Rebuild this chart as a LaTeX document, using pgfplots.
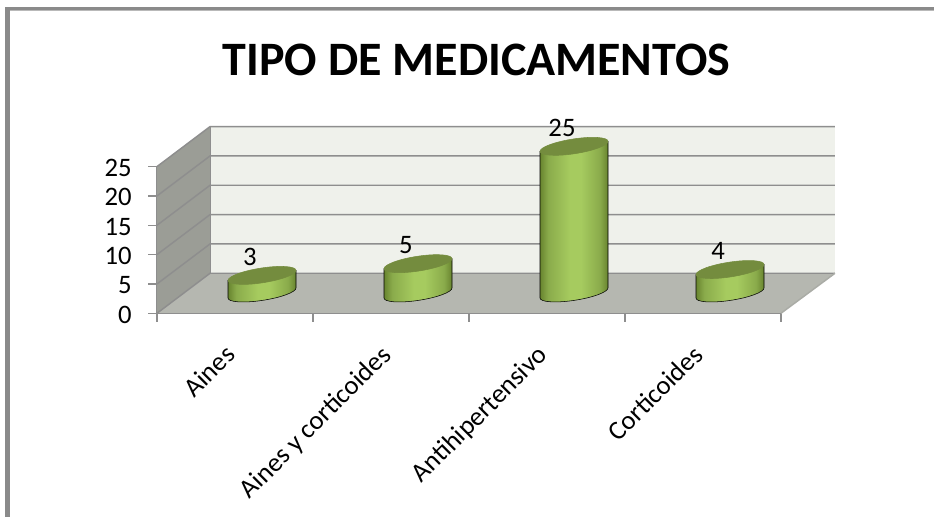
\documentclass[border=0pt]{standalone}
\usepackage{pgfplots}
\pgfplotsset{compat=1.18}
\usepackage{pgfplotstable}
\usepackage{fontspec}
\setmainfont{Carlito}
\definecolor{cdark}{HTML}{68842F}
\definecolor{cmid}{HTML}{8AAB4B}
\definecolor{clight}{HTML}{A6CB5F}
\definecolor{ctop}{HTML}{748C3E}
\definecolor{wallside}{HTML}{9B9D96}
\definecolor{wallback}{HTML}{EFF1EB}
\definecolor{wallfloor}{HTML}{B5B7B0}
\definecolor{gridc}{HTML}{8E8E8E}
\definecolor{framec}{HTML}{8A8A8A}
\pgfdeclarehorizontalshading{cylshade}{100bp}{color(0bp)=(cdark); color(25bp)=(cdark); color(31bp)=(cmid); color(47bp)=(clight); color(55bp)=(clight); color(69bp)=(cmid); color(75bp)=(cdark); color(100bp)=(cdark)}
\pgfplotstableread{
x y
0.5 3
1.5 5
2.5 25
3.5 4
}\meds
\pgfdeclareplotmark{cyl}{%
  \pgfmathsetlengthmacro\cylh{\cylv*4.398pt}%
  \shade[shading=cylshade] (-25.5pt,-3.75pt) -- (-25.5pt,{-3.75pt-\cylh})
    .. controls (-25.5pt,{-6.84pt-\cylh}) and (-14.08pt,{-7.67pt-\cylh}) .. (0pt,{-5.6pt-\cylh})
    .. controls (14.08pt,{-3.53pt-\cylh}) and (25.5pt,{0.66pt-\cylh}) .. (25.5pt,{3.75pt-\cylh})
    -- (25.5pt,3.75pt) -- cycle;
  \fill[ctop] (25.5pt,3.75pt) .. controls (25.5pt,6.84pt) and (14.08pt,7.67pt) .. (0pt,5.6pt)
    .. controls (-14.08pt,3.53pt) and (-25.5pt,-0.66pt) .. (-25.5pt,-3.75pt)
    .. controls (-25.5pt,-6.84pt) and (-14.08pt,-7.67pt) .. (0pt,-5.6pt)
    .. controls (14.08pt,-3.53pt) and (25.5pt,0.66pt) .. (25.5pt,3.75pt) -- cycle;
}
\begin{document}
\begin{tikzpicture}[x=0.75pt,y=0.75pt]
\useasboundingbox (0,0) rectangle (934,517);
\fill[white] (0,0) rectangle (934,517);
\fill[framec] (5,507) rectangle (934,510);
\fill[framec!60] (10,506) rectangle (934,507);
\fill[framec] (5,0) rectangle (10,510);
\node[font=\bfseries\fontsize{36}{42}\selectfont] at (476.5,457) {TIPO DE MEDICAMENTOS};
\begin{axis}[
  at={(117.75pt,152.8pt)}, anchor=south west,
  scale only axis, width=468pt, height=110pt,
  xmin=0, xmax=4, ymin=0, ymax=25,
  clip=false,
  axis lines=left, axis line style={gridc,line width=1.1pt,-},
  xtick={0,1,2,3,4}, xticklabels={},
  ytick={0,5,10,15,20,25},
  tick style={gridc,line width=1pt},
  tick align=outside, major tick length=6.5pt,
  tick pos=left,
  /pgf/number format/assume math mode=true,
  y tick label style={font=\fontsize{20}{24}\selectfont, xshift=-9pt, yshift=-1pt},
  extra x ticks={0.5,1.5,2.5,3.5},
  extra x tick labels={Aines,Aines y corticoides,Antihipertensivo,Corticoides},
  extra x tick style={major tick length=0pt, tick label style={rotate=45, anchor=north east, font=\fontsize{20}{24}\selectfont, yshift=-6.4pt, xshift=-18.7pt}},
]
\addplot[draw=none,fill=wallside,forget plot] coordinates {(0,0) (0,25) (0.34,31.82) (0.34,6.82)} -- cycle;
\addplot[draw=none,fill=wallback,forget plot] coordinates {(0.34,6.82) (0.34,31.82) (4.346,31.82) (4.346,6.82)} -- cycle;
\addplot[draw=none,fill=wallfloor,forget plot] coordinates {(0,0) (0.34,6.82) (4.346,6.82) (4,0)} -- cycle;
\addplot[gridc,line width=1.1pt] coordinates {(0,0) (0.34,6.82) (4.346,6.82)};
\addplot[gridc,line width=1.1pt] coordinates {(0,5) (0.34,11.82) (4.346,11.82)};
\addplot[gridc,line width=1.1pt] coordinates {(0,10) (0.34,16.82) (4.346,16.82)};
\addplot[gridc,line width=1.1pt] coordinates {(0,15) (0.34,21.82) (4.346,21.82)};
\addplot[gridc,line width=1.1pt] coordinates {(0,20) (0.34,26.82) (4.346,26.82)};
\addplot[gridc,line width=1.1pt] coordinates {(0,25) (0.34,31.82) (4.346,31.82)};
\addplot[gridc,line width=0.8pt] coordinates {(0.34,6.82) (0.34,31.82)};
\addplot[wallside!85!white,line width=1.1pt] coordinates {(4,0) (4.346,6.82)};
\addplot[gridc,line width=1.1pt] coordinates {(0,0) (4,0)};
\end{axis}
\begin{axis}[
  at={(138pt,168pt)}, anchor=south west,
  scale only axis, width=468pt, height=110pt,
  xmin=0, xmax=4, ymin=0, ymax=25,
  clip=false, hide axis,
  /pgf/number format/assume math mode=true,
]
\addplot[scatter, only marks, mark=cyl, scatter/use mapped color={draw=none,fill=none},
  visualization depends on={y \as \cylv},
  nodes near coords,
  point meta=y,
  every node near coord/.append style={anchor=center, xshift=-9pt, yshift=13.6pt, font=\fontsize{20}{24}\selectfont, text=black},
] table[x=x,y=y] {\meds};
\end{axis}
\end{tikzpicture}
\end{document}
